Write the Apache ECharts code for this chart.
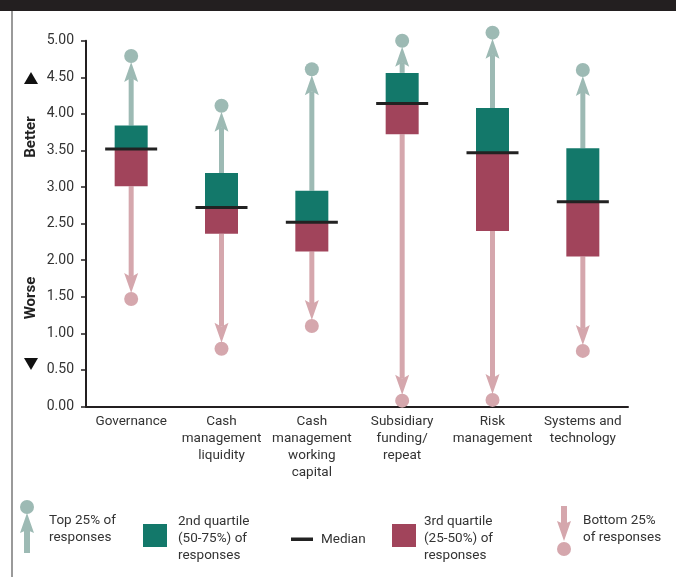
<!DOCTYPE html>
<html>
<head>
<meta charset="utf-8">
<script src="https://cdn.jsdelivr.net/npm/echarts@6/dist/echarts.min.js"></script>
<style>
  html, body { margin: 0; padding: 0; background: #fff; }
  #main { width: 676px; height: 577px; }
</style>
</head>
<body>
<div id="main"></div>
<script>
// categories and the five values of each box
var categories = ['Governance', 'Cash\nmanagement\nliquidity', 'Cash\nmanagement\nworking\ncapital',
  'Subsidiary\nfunding/\nrepeat', 'Risk\nmanagement', 'Systems and\ntechnology'];
var topValues = [4.79, 4.11, 4.61, 5.00, 5.11, 4.60];      // top 25% marker
var upperQuartile = [3.84, 3.19, 2.95, 4.56, 4.08, 3.53];  // top of 2nd quartile box
var medians = [3.52, 2.72, 2.52, 4.14, 3.47, 2.80];
var lowerQuartile = [3.01, 2.36, 2.12, 3.72, 2.40, 2.05];  // bottom of 3rd quartile box
var bottomValues = [1.47, 0.79, 1.10, 0.08, 0.09, 0.76];   // bottom 25% marker
var yTicks = [0, 0.5, 1, 1.5, 2, 2.5, 3, 3.5, 4, 4.5, 5];

var FONT = "Roboto, 'Liberation Sans', sans-serif";
var C_TOP = '#9dbab4', C_Q2 = '#13786a', C_Q3 = '#a1445b', C_BOT = '#d5a7ad', C_MED = '#222';

var data = categories.map(function (c, i) {
  return [i, topValues[i], upperQuartile[i], medians[i], lowerQuartile[i], bottomValues[i]];
});

function renderItem(params, api) {
  var i = api.value(0);
  var pT = api.coord([i, api.value(1)]);
  var y3 = api.coord([i, api.value(2)])[1];
  var yM = api.coord([i, api.value(3)])[1];
  var y1 = api.coord([i, api.value(4)])[1];
  var yB = api.coord([i, api.value(5)])[1];
  var cx = pT[0], yT = pT[1];
  var r = 7, bw = 33, hl = 20, hw = 7;
  var tipU = yT + r - 1, tipD = yB - r + 1;
  return {
    type: 'group',
    children: [
      // up arrow
      { type: 'rect', shape: { x: cx - 2.5, y: tipU + hl - 4, width: 5, height: y3 - (tipU + hl - 4) }, style: { fill: C_TOP } },
      { type: 'polygon', shape: { points: [[cx, tipU], [cx + hw, tipU + hl], [cx, tipU + hl - 4], [cx - hw, tipU + hl]] }, style: { fill: C_TOP } },
      { type: 'circle', shape: { cx: cx, cy: yT, r: r }, style: { fill: C_TOP } },
      // down arrow
      { type: 'rect', shape: { x: cx - 2.5, y: y1, width: 5, height: (tipD - hl + 4) - y1 }, style: { fill: C_BOT } },
      { type: 'polygon', shape: { points: [[cx, tipD], [cx + hw, tipD - hl], [cx, tipD - hl + 4], [cx - hw, tipD - hl]] }, style: { fill: C_BOT } },
      { type: 'circle', shape: { cx: cx, cy: yB, r: r }, style: { fill: C_BOT } },
      // boxes
      { type: 'rect', shape: { x: cx - bw / 2, y: y3, width: bw, height: yM - y3 }, style: { fill: C_Q2 } },
      { type: 'rect', shape: { x: cx - bw / 2, y: yM, width: bw, height: y1 - yM }, style: { fill: C_Q3 } },
      // median
      { type: 'line', shape: { x1: cx - 26, y1: yM, x2: cx + 26, y2: yM }, style: { stroke: C_MED, lineWidth: 3 } }
    ]
  };
}

var txt = { fill: '#333', fontSize: 13.5, fontFamily: FONT, lineHeight: 17 };
function t(x, y, s, extra) {
  var st = Object.assign({}, txt, { text: s, x: x, y: y, verticalAlign: 'top' }, extra || {});
  return { type: 'text', style: st, silent: true };
}

var graphics = [
  // frame
  { type: 'rect', shape: { x: 0, y: 0, width: 676, height: 11 }, style: { fill: '#231f20' } },
  { type: 'line', shape: { x1: 12, y1: 11, x2: 12, y2: 577 }, style: { stroke: '#9a9a9a', lineWidth: 2 } },
  // side labels
  { type: 'text', x: 31, y: 137, rotation: Math.PI / 2,
    style: { text: 'Better', fontSize: 15, fontWeight: 'bold', fontFamily: FONT, fill: '#222', align: 'center', verticalAlign: 'middle' } },
  { type: 'text', x: 31, y: 298, rotation: Math.PI / 2,
    style: { text: 'Worse', fontSize: 15, fontWeight: 'bold', fontFamily: FONT, fill: '#222', align: 'center', verticalAlign: 'middle' } },
  { type: 'polygon', shape: { points: [[31, 72], [38, 84], [24, 84]] }, style: { fill: '#111' } },
  { type: 'polygon', shape: { points: [[24, 358], [38, 358], [31, 370]] }, style: { fill: '#111' } },
  // legend: top 25%
  { type: 'rect', shape: { x: 24, y: 530, width: 6, height: 23 }, style: { fill: C_TOP } },
  { type: 'polygon', shape: { points: [[27, 513], [34, 533], [27, 530], [20, 533]] }, style: { fill: C_TOP } },
  { type: 'circle', shape: { cx: 27, cy: 507, r: 7 }, style: { fill: C_TOP } },
  t(49, 512, 'Top 25% of\nresponses'),
  // 2nd quartile
  { type: 'rect', shape: { x: 143, y: 524, width: 24, height: 23 }, style: { fill: C_Q2 } },
  t(178, 513, '2nd quartile\n(50-75%) of\nresponses'),
  // median
  { type: 'rect', shape: { x: 291, y: 537.5, width: 22, height: 3.5 }, style: { fill: C_MED } },
  t(321, 531, 'Median'),
  // 3rd quartile
  { type: 'rect', shape: { x: 392, y: 524, width: 24, height: 23 }, style: { fill: C_Q3 } },
  t(424, 513, '3rd quartile\n(25-50%) of\nresponses'),
  // bottom 25%
  { type: 'rect', shape: { x: 561, y: 506, width: 6, height: 18 }, style: { fill: C_BOT } },
  { type: 'polygon', shape: { points: [[564, 541], [571, 521], [564, 524], [557, 521]] }, style: { fill: C_BOT } },
  { type: 'circle', shape: { cx: 564, cy: 549, r: 7 }, style: { fill: C_BOT } },
  t(583, 512, 'Bottom 25%\nof responses')
];

var myChart = echarts.init(document.getElementById('main'));
var option = {
  animation: false,
  backgroundColor: '#fff',
  grid: { left: 86, right: 48, top: 40.7, bottom: 170.5, containLabel: false },
  xAxis: {
    type: 'category',
    data: categories,
    boundaryGap: true,
    axisLine: { lineStyle: { color: '#231f20', width: 2 } },
    axisTick: { show: false },
    axisLabel: { color: '#333', fontSize: 13.5, fontFamily: FONT, lineHeight: 17, margin: 7, interval: 0 }
  },
  yAxis: {
    type: 'value',
    min: yTicks[0],
    max: yTicks[yTicks.length - 1],
    interval: 0.5,
    axisLine: { show: true, lineStyle: { color: '#231f20', width: 2 } },
    axisTick: { show: true, length: 5, lineStyle: { color: '#231f20', width: 1.5 } },
    splitLine: { show: false },
    axisLabel: { color: '#333', fontSize: 14, fontFamily: FONT, margin: 12,
      formatter: function (v) { return v.toFixed(2); } }
  },
  series: [{
    type: 'custom',
    renderItem: renderItem,
    encode: { x: 0, y: [1, 2, 3, 4, 5] },
    data: data,
    silent: true
  }],
  graphic: graphics
};
myChart.setOption(option);
</script>
</body>
</html>
